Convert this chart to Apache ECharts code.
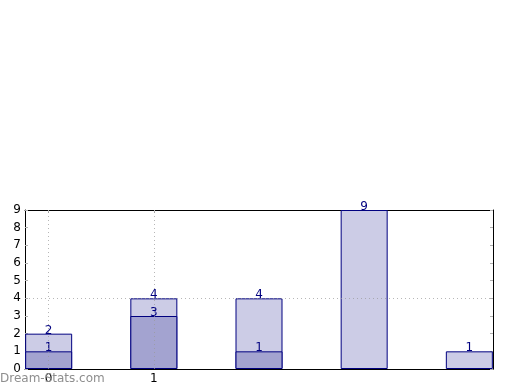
<!DOCTYPE html>
<html>
<head>
<meta charset="utf-8">
<script src="https://cdn.jsdelivr.net/npm/echarts@6/dist/echarts.min.js"></script>
<style>
html,body{margin:0;padding:0;background:#fff;}
#c{width:520px;height:390px;}
</style>
</head>
<body>
<div id="c"></div>
<script>
var positions = [0, 1, 2, 3, 4];
var backValues = [2, 4, 4, 9, 1];
var frontValues = [1, 3, 1, null, null];
var xTickLabels = [0, 1];
var gridX = [0, 1];
var gridY = [4];

var navy = '#000080';
var backData = positions.map(function (p, i) { return [p, backValues[i]]; });
var frontData = positions.map(function (p, i) { return frontValues[i] == null ? null : [p, frontValues[i]]; }).filter(function (d) { return d; });

var chart = echarts.init(document.getElementById('c'), null, {renderer: 'canvas'});
var tickStyle = {color: '#b0b0b0', width: 1};
var labelFont = {fontFamily: 'DejaVu Sans', fontSize: 12, color: '#000'};
chart.setOption({
  animation: false,
  backgroundColor: '#fff',
  grid: {left: 25, right: 27, top: 210, bottom: 21, containLabel: false},
  xAxis: [{
    type: 'value', min: -0.225, max: 4.225, position: 'bottom',
    axisLine: {show: true, onZero: false, lineStyle: {color: '#000', width: 1}},
    axisTick: {show: true, inside: true, length: 3, lineStyle: tickStyle, customValues: xTickLabels},
    axisLabel: Object.assign({show: true, margin: 4, customValues: xTickLabels}, labelFont),
    splitLine: {show: false}
  }, {
    type: 'value', min: -0.225, max: 4.225, position: 'top',
    axisLine: {show: true, onZero: false, lineStyle: {color: '#000', width: 1}},
    axisTick: {show: true, inside: true, length: 3, lineStyle: tickStyle, customValues: xTickLabels},
    axisLabel: {show: false},
    splitLine: {show: false}
  }],
  yAxis: [{
    type: 'value', min: 0, max: 9, interval: 1, position: 'left',
    axisLine: {show: true, onZero: false, lineStyle: {color: '#000', width: 1}},
    axisTick: {show: true, inside: true, length: 3, lineStyle: tickStyle},
    axisLabel: Object.assign({show: true, margin: 4}, labelFont),
    splitLine: {show: false}
  }, {
    type: 'value', min: 0, max: 9, interval: 1, position: 'right',
    axisLine: {show: true, onZero: false, lineStyle: {color: '#000', width: 1}},
    axisTick: {show: true, inside: true, length: 3, lineStyle: tickStyle},
    axisLabel: {show: false},
    splitLine: {show: false}
  }],
  series: [{
    type: 'bar', name: 'back', data: backData, barWidth: 47, barGap: '-100%', z: 2,
    itemStyle: {color: '#ccccE6', borderColor: navy, borderWidth: 1},
    label: {show: true, position: 'top', distance: -3, color: navy, fontFamily: 'DejaVu Sans', fontSize: 12, lineHeight: 12}
  }, {
    type: 'bar', name: 'front', data: frontData, barWidth: 47, barGap: '-100%', z: 3,
    itemStyle: {color: '#a3a3d0', borderColor: navy, borderWidth: 1},
    label: {show: true, position: 'top', distance: -3, color: navy, fontFamily: 'DejaVu Sans', fontSize: 12, lineHeight: 12}
  }, {
    type: 'line', name: 'grid', data: [], z: 5, silent: true,
    markLine: {
      silent: true, symbol: 'none', label: {show: false},
      lineStyle: {color: '#999', type: [1, 3], width: 1, opacity: 0.7},
      data: gridX.map(function (v) { return {xAxis: v}; }).concat(gridY.map(function (v) { return {yAxis: v}; }))
    }
  }],
  graphic: [{
    type: 'text', left: 0, top: 373, z: 100,
    style: {text: 'Dream-Stats.com', fill: '#8e8e8e', font: '12px "DejaVu Sans"'}
  }]
});
</script>
</body>
</html>
